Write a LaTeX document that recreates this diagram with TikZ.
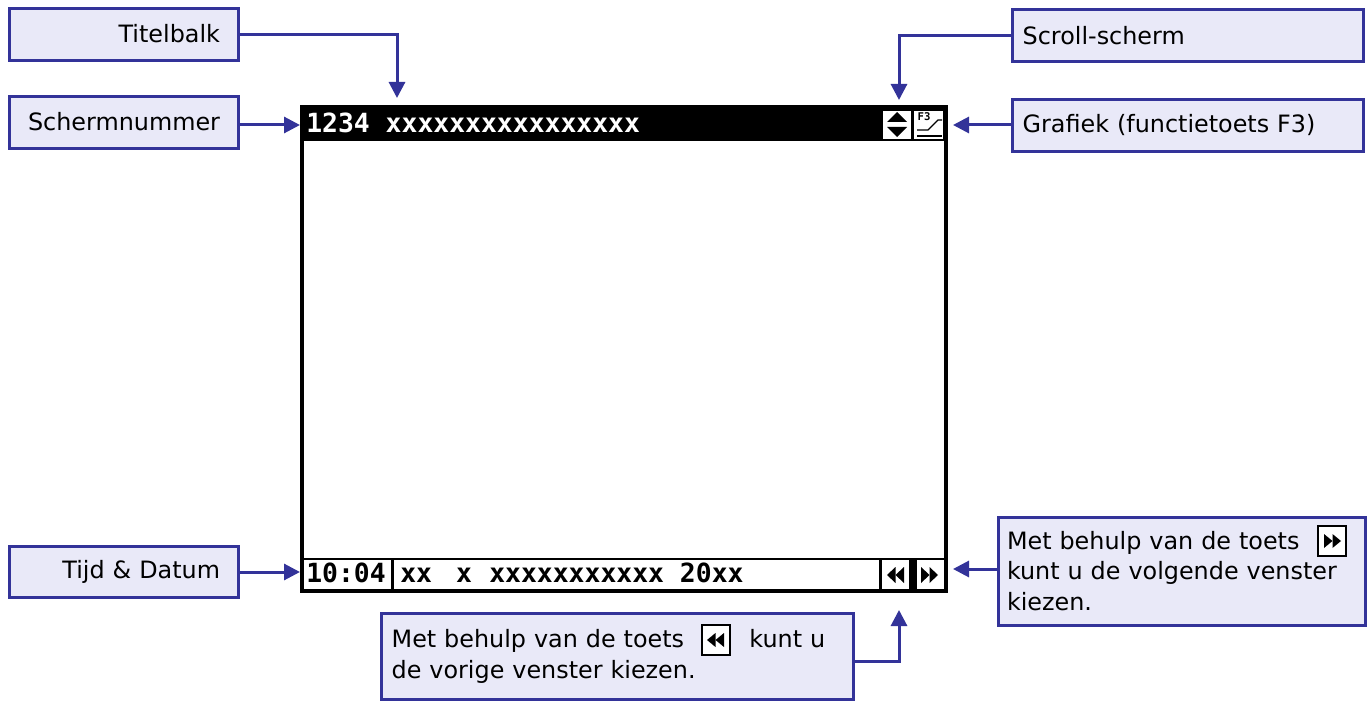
\documentclass[tikz,border=0pt]{standalone}
\usepackage{fontspec}
\setmainfont{DejaVu Sans}
\newfontfamily\screenfont{DejaVu Sans Mono}
\usetikzlibrary{arrows.meta}
\definecolor{calloutblue}{HTML}{333399}
\definecolor{calloutfill}{HTML}{E9E9F8}
\tikzset{
    callout/.style={draw=calloutblue, fill=calloutfill, line width=2.25pt, rectangle, font=\fontsize{17.9}{23}\selectfont, inner ysep=0pt},
    leftbox/.style={callout, inner xsep=13.5pt, text width=144.75pt, minimum height=38.5pt, align=right},
    rightbox/.style={callout, inner xsep=8pt, text width=247.25pt, minimum height=38.5pt, align=left},
    arrow/.style={draw=calloutblue, line width=2.25pt, -{Triangle[length=12pt, width=12pt]}},
    screentext/.style={inner sep=0pt, anchor=base west, font=\screenfont\bfseries\fontsize{19.8}{20}\selectfont},
    keybox/.style={draw=black, fill=white, line width=1.5pt, inner sep=0pt, minimum width=21pt, minimum height=22.5pt}
}
\newcommand{\lefttriangles}[4]{
    \fill[black] (#1,#2) -- ++(#3,-#4/2) -- ++(0,#4) -- cycle;
    \fill[black] (#1+#3,#2) -- ++(#3,-#4/2) -- ++(0,#4) -- cycle;
}
\newcommand{\righttriangles}[4]{
    \fill[black] (#1,#2) -- ++(-#3,-#4/2) -- ++(0,#4) -- cycle;
    \fill[black] (#1-#3,#2) -- ++(-#3,-#4/2) -- ++(0,#4) -- cycle;
}
\begin{document}
\begin{tikzpicture}[x=0.75pt, y=-0.75pt]
    \useasboundingbox (0,0) rectangle (1368,702);

    \fill[black] (300,105) rectangle (948,593);
    \fill[white] (304,141) rectangle (944,558);
    \fill[white] (304,560) rectangle (391,589);
    \fill[white] (394,560) rectangle (879,589);
    \fill[white] (882,560) rectangle (909,589);
    \fill[white] (917,560) rectangle (944,589);
    \fill[white] (883,111) rectangle (911,139);
    \fill[white] (914,111) rectangle (943,139);

    \node[screentext, text=white] (number) at (306,133) {1234 xxxxxxxxxxxxxxxx};
    \node[screentext] (clock) at (306,582) {10:04};
    \node[screentext] (status) at (400,582) {xx\hspace{18pt}x\hspace{13pt}xxxxxxxxxxx 20xx};

    \fill[black] (897,112) -- (907,122) -- (887,122) -- cycle;
    \fill[black] (897,137) -- (907,127) -- (887,127) -- cycle;

    \node[inner sep=0pt, font=\screenfont\bfseries\fontsize{8}{8}\selectfont] (fkey) at (924,117) {F3};
    \draw[black, line width=1pt] (917,130) -- (928,130) -- (938,120) -- (942,120);
    \draw[black, line width=1.5pt] (917,136) -- (942,136);

    \lefttriangles{887}{575}{8.5}{16}
    \righttriangles{938}{575}{8.5}{16}

    \node[leftbox] (titlebox) at (123.5,34.5) {\raisebox{1pt}{Titelbalk}};
    \node[leftbox] (numberbox) at (123.5,122.5) {\raisebox{2pt}{Schermnummer}};
    \node[leftbox] (timebox) at (123.5,572) {Tijd \& Datum};
    \node[rightbox] (scrollbox) at (1187.5,35.5) {Scroll-scherm};
    \node[rightbox] (graphbox) at (1187.5,125.5) {Grafiek (functietoets F3)};

    \node[callout, inner xsep=6.5pt, text width=262.5pt, minimum height=81pt, align=left] (nextbox) at (1182,571) {Met behulp van de toets\\kunt u de volgende venster\\kiezen.};
    \node[callout, inner xsep=8pt, text width=338pt, minimum height=65pt, align=left] (prevbox) at (617,656.5) {Met behulp van de toets\hspace{49pt}kunt u\\de vorige venster kiezen.};

    \node[keybox] (nextkey) at (1331.5,540.5) {};
    \righttriangles{1341}{541}{8.5}{14}
    \node[keybox] (prevkey) at (715.5,639.5) {};
    \lefttriangles{707}{640}{8.5}{14}

    \coordinate (titleend) at (397,98);
    \coordinate (numberend) at (300,125);
    \coordinate (timeend) at (300,572);
    \coordinate (scrollend) at (899,100);
    \coordinate (graphend) at (953,125);
    \coordinate (nextend) at (953,569);
    \coordinate (prevend) at (899,610);

    \draw[arrow] (titlebox.east) -| (titleend);
    \draw[arrow] (numberbox.east |- numberend) -- (numberend);
    \draw[arrow] (timebox.east) -- (timeend);
    \draw[arrow] (scrollbox.west) -| (scrollend);
    \draw[arrow] (graphbox.west |- graphend) -- (graphend);
    \draw[arrow] (nextbox.west |- nextend) -- (nextend);
    \draw[arrow] (prevbox.east |- 0,661) -| (prevend);
\end{tikzpicture}
\end{document}
